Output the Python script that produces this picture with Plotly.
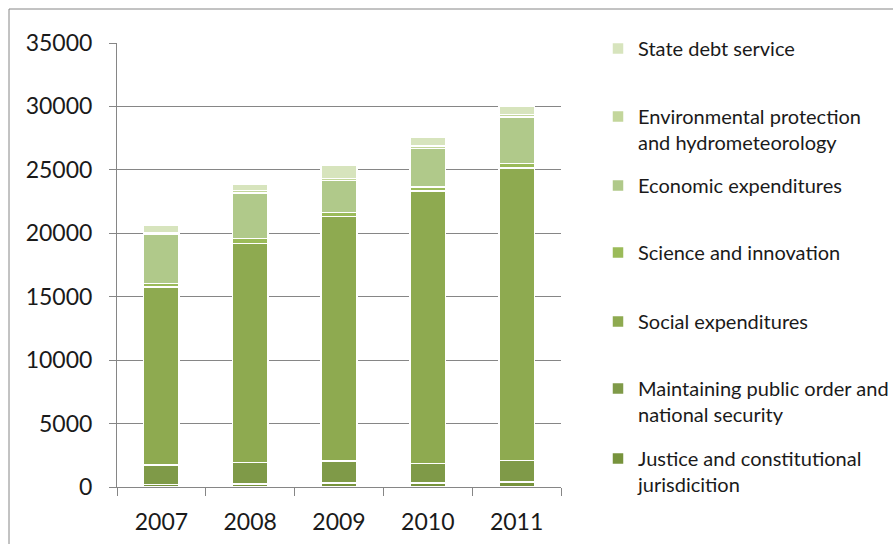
import plotly.graph_objects as go

# Budget expenditure by function, 2007-2011
years = ["2007", "2008", "2009", "2010", "2011"]

justice = [200, 250, 300, 300, 400]
public_order = [1550, 1700, 1750, 1570, 1700]
social = [14000, 17260, 19280, 21480, 23050]
science = [300, 390, 300, 300, 350]
economic = [3900, 3560, 2520, 3050, 3650]
environment = [100, 200, 150, 200, 200]
debt_service = [550, 500, 1100, 650, 700]

y_ticks = [0, 5000, 10000, 15000, 20000, 25000, 30000, 35000]

# bottom-to-top stacking order: (name, values, colour, legend text centre in px from top)
series = [
    ("Justice and constitutional<br>jurisdicition", justice, "#77933C", 459),
    ("Maintaining public order and<br>national security", public_order, "#7F9A48", 389),
    ("Social expenditures", social, "#8EAA50", 322),
    ("Science and innovation", science, "#9BBB59", 253),
    ("Economic expenditures", economic, "#B0C98A", 186),
    ("Environmental protection<br>and hydrometeorology", environment, "#C3D69B", 117),
    ("State debt service", debt_service, "#D7E4BD", 49),
]

W, H = 893, 544
PLOT_L, PLOT_R, PLOT_T, PLOT_B = 117, 561, 43, 487
plot_w = PLOT_R - PLOT_L
plot_h = PLOT_B - PLOT_T

FONT = "Lato"
GRID = "#868686"

fig = go.Figure()
layout_legends = {}
for i, (name, vals, color, text_y) in enumerate(series):
    key = "legend" if i == 0 else f"legend{i + 1}"
    fig.add_trace(go.Bar(
        x=years, y=vals, name=name,
        marker=dict(color=color, line=dict(color="white", width=1.5)),
        width=0.4,
        legend=key,
        hoverinfo="skip",
    ))
    layout_legends[key] = dict(
        x=(598 - PLOT_L) / plot_w,
        y=(PLOT_B - (text_y - 20)) / plot_h,
        xanchor="left", yanchor="top",
        valign="top",
        bgcolor="rgba(0,0,0,0)",
        font=dict(family=FONT, size=20, color="#1a1a1a"),
        itemclick=False,
    )

fig.update_layout(
    width=W, height=H,
    margin=dict(l=PLOT_L, r=W - PLOT_R, t=PLOT_T, b=H - PLOT_B, autoexpand=False),
    barmode="stack",
    plot_bgcolor="white",
    paper_bgcolor="white",
    showlegend=True,
    **layout_legends,
)

fig.update_xaxes(
    type="category",
    showline=True, linecolor=GRID, linewidth=1,
    ticks="outside", tickson="boundaries", ticklen=8, tickcolor=GRID,
    tickfont=dict(family=FONT, size=23, color="#1a1a1a"),
    ticklabelstandoff=14,
    showgrid=False,
)
fig.update_yaxes(
    range=[0, 35000],
    tickvals=y_ticks,
    ticktext=[str(v) for v in y_ticks],
    showline=True, linecolor=GRID, linewidth=1,
    ticks="outside", ticklen=7, tickcolor=GRID,
    showgrid=True, gridcolor=GRID, gridwidth=1,
    zeroline=False,
    tickfont=dict(family=FONT, size=23, color="#1a1a1a"),
    ticklabelstandoff=12,
)

# chart frame (left and top edges fall inside the page)
fig.add_shape(
    type="rect", xref="paper", yref="paper",
    x0=(9 - PLOT_L) / plot_w, x1=(900 - PLOT_L) / plot_w,
    y0=(PLOT_B - 560) / plot_h, y1=(PLOT_B - 9) / plot_h,
    line=dict(color="#868686", width=1), fillcolor="rgba(0,0,0,0)",
    layer="below",
)

fig.write_html("out.html")
